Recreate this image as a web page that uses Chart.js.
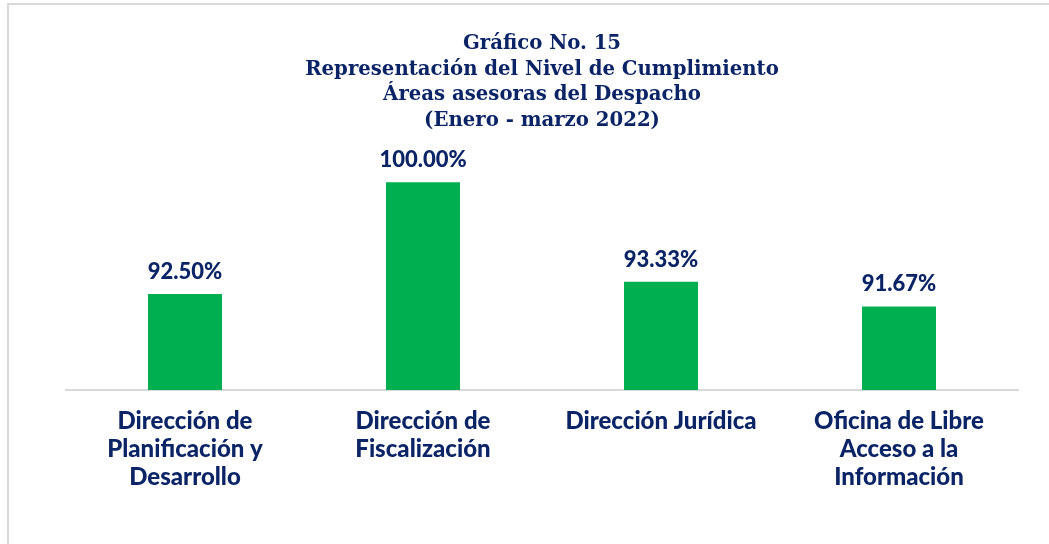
<!DOCTYPE html>
<html>
<head>
<meta charset="utf-8">
<script src="https://cdn.jsdelivr.net/npm/chart.js@4.4.1/dist/chart.umd.min.js"></script>
<style>
  html, body { margin: 0; padding: 0; background: #ffffff; overflow: hidden; }
  #frame { position: absolute; left: 7px; top: 3px; width: 1080px; height: 580px; border: 2px solid #d9d9d9; box-sizing: border-box; }
  #wrap { position: absolute; left: 0; top: 0; width: 1049px; height: 544px; }
</style>
</head>
<body>
<div id="frame"></div>
<div id="wrap"><canvas id="c" width="1049" height="544"></canvas></div>
<script>
const categories = [
  ["Dirección de", "Planificación y", "Desarrollo"],
  ["Dirección de", "Fiscalización"],
  ["Dirección Jurídica"],
  ["Oficina de Libre", "Acceso a la", "Información"]
];
const values = [92.50, 100.00, 93.33, 91.67];
const valueLabels = ["92.50%", "100.00%", "93.33%", "91.67%"];
const titleLines = [
  "Gráfico No. 15",
  "Representación del Nivel de Cumplimiento",
  "Áreas asesoras del Despacho",
  "(Enero - marzo 2022)"
];

const NAVY = "#0b2466";
const GREEN = "#00b050";

const valueLabelPlugin = {
  id: "valueLabels",
  afterDatasetsDraw(chart) {
    const ctx = chart.ctx;
    const meta = chart.getDatasetMeta(0);
    ctx.save();
    ctx.font = "900 22px Lato";
    ctx.fillStyle = NAVY;
    ctx.textAlign = "center";
    ctx.textBaseline = "alphabetic";
    meta.data.forEach((bar, i) => {
      ctx.fillText(valueLabels[i], bar.x, bar.y - 15);
    });
    ctx.restore();
  }
};

new Chart(document.getElementById("c"), {
  type: "bar",
  data: {
    labels: categories,
    datasets: [{
      data: values,
      backgroundColor: GREEN,
      borderWidth: 0,
      barPercentage: 0.311,
      categoryPercentage: 1
    }]
  },
  options: {
    responsive: false,
    animation: false,
    layout: { padding: { left: 66, right: 31, top: 0, bottom: 44 } },
    plugins: {
      legend: { display: false },
      tooltip: { enabled: false },
      title: {
        display: true,
        text: titleLines,
        color: NAVY,
        font: { family: "DejaVu Serif", size: 19.7, weight: "bold", lineHeight: 1.3 },
        padding: { top: 31, bottom: 19 }
      }
    },
    scales: {
      y: { display: false, min: 86.07, max: 102 },
      x: {
        grid: { display: false },
        border: { display: true, color: "#d9d9d9", width: 2 },
        ticks: {
          color: NAVY,
          font: { family: "Lato", size: 24, weight: "900", lineHeight: 1.167 },
          padding: 9,
          maxRotation: 0,
          autoSkip: false
        }
      }
    }
  },
  plugins: [valueLabelPlugin]
});
</script>
</body>
</html>
